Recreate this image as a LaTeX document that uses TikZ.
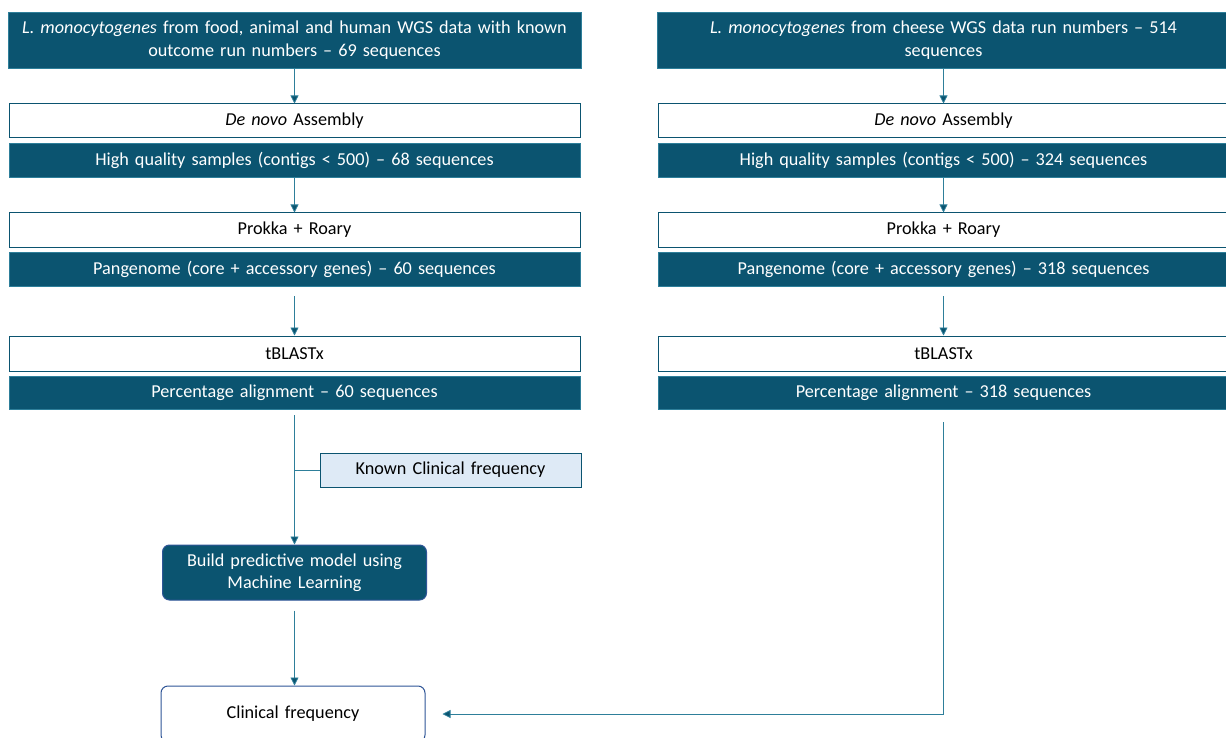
\documentclass[tikz,border=0pt]{standalone}
\usepackage{fontspec}
\setmainfont{Carlito}
\usetikzlibrary{arrows.meta}
\definecolor{dteal}{HTML}{0B5470}
\definecolor{lteal}{HTML}{2E7F9A}
\definecolor{lblue}{HTML}{DEEAF6}
\definecolor{rblue}{HTML}{2F5597}
\tikzset{
  base/.style={inner sep=0pt, align=center, font=\fontsize{18.2}{22.5}\selectfont, text width=562pt},
  darkbox/.style={base, fill=dteal, draw=lteal, line width=0.6pt, text=white, minimum width=571pt, minimum height=34pt},
  whitebox/.style={base, fill=white, draw=dteal, line width=1pt, text=black, minimum width=571pt, minimum height=34pt},
  known/.style={base, fill=lblue, draw=dteal, line width=1pt, minimum width=261pt, minimum height=34pt, text width=250pt},
  mlbox/.style={base, fill=dteal, draw=rblue, line width=1pt, rounded corners=7pt, text=white, minimum width=264pt, minimum height=55pt, text width=250pt},
  outbox/.style={base, fill=white, draw=rblue, line width=1pt, rounded corners=7pt, minimum width=264pt, minimum height=56pt, text width=250pt},
  conn/.style={draw=lteal, line width=0.8pt},
  arr/.style={conn, -{Triangle[length=8pt,width=8pt,fill=dteal]}},
}
\begin{document}
\begin{tikzpicture}[x=1pt,y=-1pt]
\clip (0,0) rectangle (1226,738);
\fill[white] (0,0) rectangle (1226,738);
% left column
\node[darkbox, minimum width=573pt, minimum height=56pt] (t1) at (294.5,40) {\textit{L. monocytogenes} from food, animal and human WGS data with known\\outcome run numbers -- 69 sequences};
\node[whitebox] (d1) at (294.5,121) {\textit{De novo} Assembly};
\node[darkbox] (h1) at (294.5,160) {High quality samples (contigs < 500) -- 68 sequences};
\node[whitebox] (p1) at (294.5,230) {Prokka + Roary};
\node[darkbox] (g1) at (294.5,269) {Pangenome (core + accessory genes) -- 60 sequences};
\node[whitebox, minimum height=35pt] (b1) at (294.5,353.5) {tBLASTx};
\node[darkbox, minimum height=33pt] (a1) at (294.5,392.5) {Percentage alignment -- 60 sequences};
\node[known] (k) at (450.5,470) {Known Clinical frequency};
\node[mlbox] (m) at (294.5,572.5) {Build predictive model using\\Machine Learning};
\node[outbox] (c) at (293,714) {Clinical frequency};
% right column
\node[darkbox, minimum width=573pt, minimum height=56pt] (t2) at (943.5,40) {\textit{L. monocytogenes} from cheese WGS data run numbers -- 514\\sequences};
\node[whitebox] (d2) at (943.5,121) {\textit{De novo} Assembly};
\node[darkbox] (h2) at (943.5,160) {High quality samples (contigs < 500) -- 324 sequences};
\node[whitebox] (p2) at (943.5,230) {Prokka + Roary};
\node[darkbox] (g2) at (943.5,269) {Pangenome (core + accessory genes) -- 318 sequences};
\node[whitebox, minimum height=35pt] (b2) at (943.5,353.5) {tBLASTx};
\node[darkbox, minimum height=33pt] (a2) at (943.5,392.5) {Percentage alignment -- 318 sequences};
\coordinate (corner) at (943.5,714);
\coordinate (branch) at (294.5,470);
% connectors left
\draw[arr] (t1.south) -- (d1.north);
\draw[arr] (h1.south) -- (p1.north);
\draw[arr, shorten <=10pt] (g1.south) -- (b1.north);
\draw[arr, shorten <=6pt] (a1.south) -- (m.north);
\draw[conn] (branch) -- (k.west);
\draw[arr, shorten <=10pt] (m.south) -- (m.south |- c.north);
% connectors right
\draw[arr] (t2.south) -- (d2.north);
\draw[arr] (h2.south) -- (p2.north);
\draw[arr, shorten <=10pt] (g2.south) -- (b2.north);
\draw[arr, shorten <=13pt, shorten >=17pt] (a2.south) -- (corner) -- (c.east);
\end{tikzpicture}
\end{document}
